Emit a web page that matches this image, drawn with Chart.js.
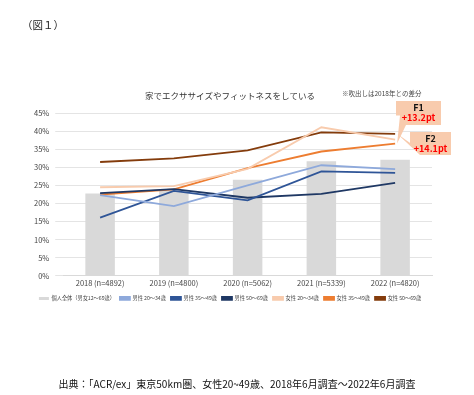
<!DOCTYPE html>
<html>
<head>
<meta charset="utf-8">
<script src="https://cdn.jsdelivr.net/npm/chart.js@4"></script>
<style>
  body { margin: 0; background: #fff; font-family: "Noto Sans CJK JP", sans-serif; }
  #wrap { position: relative; width: 474px; height: 395px; }
  #fig { position: absolute; left: 22px; top: 17px; font-size: 10.5px; color: #222; }
  #src { position: absolute; left: 0; width: 474px; top: 376px; text-align: center; font-size: 10px; color: #111; }
  #box { position: absolute; left: 0; top: 0; width: 474px; height: 395px; }
</style>
</head>
<body>
<div id="wrap">
  <div id="box"><canvas id="myChart"></canvas></div>
  <div id="fig">（図１）</div>
  <div id="src">出典：「ACR/ex」東京50km圏、女性20~49歳、2018年6月調査～2022年6月調査</div>
</div>
<script>
  const years = ['2018 (n=4892)', '2019 (n=4800)', '2020 (n=5062)', '2021 (n=5339)', '2022 (n=4820)'];
  const total = [22.8, 23.6, 26.6, 31.7, 32.1];
  const male2034 = [22.3, 19.3, 25.0, 30.6, 29.5];
  const male3549 = [16.1, 23.5, 20.9, 28.9, 28.5];
  const male5069 = [22.9, 24.0, 21.6, 22.7, 25.7];
  const female2034 = [24.5, 24.8, 29.6, 41.1, 37.7];
  const female3549 = [22.5, 23.9, 29.8, 34.4, 36.6];
  const female5069 = [31.5, 32.5, 34.7, 39.7, 39.3];
  const callouts = [
    { name: 'F1', text: '+13.2pt', series: 4 },
    { name: 'F2', text: '+14.1pt', series: 5 }
  ];

  const jp = '"Noto Sans CJK JP", sans-serif';

  function lineSet(label, data, color) {
    return {
      type: 'line', label: label, data: data,
      borderColor: color, backgroundColor: color,
      borderWidth: 1.8, pointRadius: 0, tension: 0, order: 1
    };
  }

  const calloutPlugin = {
    id: 'callouts',
    afterDatasetsDraw(chart) {
      const ctx = chart.ctx;
      ctx.save();
      // note
      ctx.font = '6.5px ' + jp;
      ctx.fillStyle = '#444';
      ctx.textAlign = 'left';
      ctx.textBaseline = 'middle';
      ctx.fillText('※吹出しは2018年との差分', 342, 94);

      const boxes = [
        { x: 396, y: 101, w: 45, h: 24 },
        { x: 410, y: 132, w: 41, h: 23 }
      ];
      callouts.forEach((c, i) => {
        const meta = chart.getDatasetMeta(c.series + 1);
        const pt = meta.data[meta.data.length - 1];
        const b = boxes[i];
        ctx.fillStyle = '#F8CBAD';
        ctx.beginPath();
        ctx.moveTo(b.x, b.y);
        ctx.lineTo(b.x + b.w, b.y);
        ctx.lineTo(b.x + b.w, b.y + b.h);
        ctx.lineTo(b.x + 10, b.y + b.h);
        ctx.lineTo(pt.x + 2, pt.y);
        ctx.lineTo(b.x + 4, b.y + b.h * 0.6);
        ctx.lineTo(b.x, b.y + b.h * 0.6);
        ctx.closePath();
        ctx.fill();
        ctx.textAlign = 'center';
        ctx.font = 'bold 9px ' + jp;
        ctx.fillStyle = '#111';
        ctx.fillText(c.name, b.x + b.w / 2, b.y + 6.5);
        ctx.fillStyle = '#FF0000';
        ctx.fillText(c.text, b.x + b.w / 2, b.y + 17);
      });
      ctx.restore();
    }
  };

  let myChart = document.getElementById('myChart').getContext('2d');
  let chart = new Chart(myChart, {
    data: {
      labels: years,
      datasets: [
        {
          type: 'bar', label: '個人全体（男女12～69歳）', data: total,
          backgroundColor: '#D9D9D9', borderWidth: 0,
          barPercentage: 0.4, categoryPercentage: 1, order: 2
        },
        lineSet('男性 20～34歳', male2034, '#8EA9DB'),
        lineSet('男性 35～49歳', male3549, '#2F5597'),
        lineSet('男性 50～69歳', male5069, '#1F3864'),
        lineSet('女性 20～34歳', female2034, '#F8CBAD'),
        lineSet('女性 35～49歳', female3549, '#ED7D31'),
        lineSet('女性 50～69歳', female5069, '#843C0C')
      ]
    },
    options: {
      responsive: true,
      maintainAspectRatio: false,
      animation: false,
      layout: { padding: { top: 91, bottom: 84, left: 28, right: 42 } },
      plugins: {
        title: {
          display: true,
          text: '家でエクササイズやフィットネスをしている',
          color: '#333',
          font: { family: jp, size: 8.5, weight: 'normal' },
          padding: { top: 0, bottom: 12 }
        },
        legend: {
          position: 'bottom',
          labels: {
            color: '#444',
            font: { family: jp, size: 5.2 },
            boxWidth: 10, boxHeight: 3, padding: 5,
            sort: (a, b) => a.datasetIndex - b.datasetIndex
          }
        },
        tooltip: { enabled: false }
      },
      scales: {
        x: {
          grid: { display: false, drawTicks: false },
          border: { color: '#D9D9D9' },
          ticks: { color: '#444', font: { family: jp, size: 7.5 }, maxRotation: 0, padding: 3 }
        },
        y: {
          min: 0, max: 45,
          grid: { color: '#E4E4E4' },
          border: { display: false },
          ticks: {
            stepSize: 5, color: '#444', padding: 6,
            font: { family: jp, size: 7.5 },
            callback: v => v + '%'
          }
        }
      }
    },
    plugins: [calloutPlugin]
  });
</script>
</body>
</html>
